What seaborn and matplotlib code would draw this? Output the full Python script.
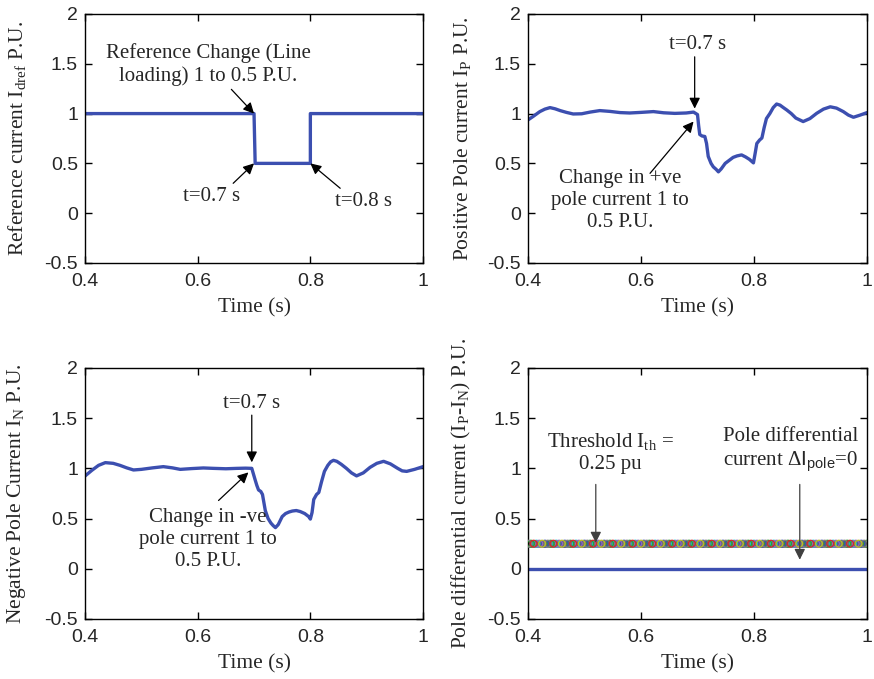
import numpy as np
import pandas as pd
import matplotlib
matplotlib.use('Agg')
import matplotlib.pyplot as plt
import seaborn as sns

# ---------------- data ----------------
# reference current I_dref (step 1 -> 0.5 -> 1)
t_ref = [0.4, 0.7, 0.702, 0.8, 0.8, 1.0]
i_ref = [1.0, 1.0, 0.5, 0.5, 1.0, 1.0]

# positive pole current I_P
t_pos = [0.400, 0.410, 0.421, 0.430, 0.439, 0.448, 0.457, 0.468, 0.480, 0.495,
         0.510, 0.527, 0.545, 0.563, 0.580, 0.600, 0.622, 0.640, 0.660, 0.680,
         0.693, 0.700, 0.702, 0.704, 0.708, 0.713, 0.716, 0.719, 0.724, 0.728,
         0.733, 0.737, 0.742, 0.749, 0.756, 0.763, 0.770, 0.778, 0.785, 0.792,
         0.799, 0.802, 0.805, 0.810, 0.814, 0.818, 0.822, 0.828, 0.834, 0.840,
         0.846, 0.852, 0.858, 0.866, 0.874, 0.887, 0.899, 0.911, 0.923, 0.935,
         0.946, 0.958, 0.967, 0.976, 0.988, 1.000]
i_pos = [0.936, 0.975, 1.020, 1.045, 1.060, 1.048, 1.030, 1.012, 0.996, 0.998,
         1.015, 1.030, 1.022, 1.010, 1.006, 1.012, 1.020, 1.008, 1.002, 1.006,
         1.015, 0.990, 0.880, 0.790, 0.775, 0.770, 0.700, 0.570, 0.500, 0.465,
         0.440, 0.415, 0.445, 0.500, 0.530, 0.560, 0.575, 0.585, 0.565, 0.540,
         0.505, 0.600, 0.700, 0.735, 0.755, 0.860, 0.950, 1.000, 1.060, 1.096,
         1.085, 1.060, 1.036, 1.000, 0.955, 0.920, 0.950, 1.003, 1.045, 1.068,
         1.055, 1.020, 0.985, 0.963, 0.985, 1.010]

# negative pole current I_N
t_neg = [0.400, 0.412, 0.424, 0.436, 0.450, 0.462, 0.474, 0.486, 0.500, 0.520,
         0.539, 0.555, 0.569, 0.590, 0.610, 0.628, 0.650, 0.670, 0.685, 0.696,
         0.702, 0.705, 0.708, 0.712, 0.715, 0.720, 0.725, 0.730, 0.734, 0.738,
         0.743, 0.750, 0.756, 0.762, 0.768, 0.775, 0.782, 0.790, 0.797, 0.800,
         0.803, 0.806, 0.811, 0.815, 0.820, 0.825, 0.831, 0.836, 0.841, 0.847,
         0.855, 0.864, 0.873, 0.882, 0.894, 0.906, 0.918, 0.930, 0.942, 0.955,
         0.963, 0.971, 0.985, 1.000]
i_neg = [0.924, 0.980, 1.030, 1.057, 1.050, 1.030, 1.005, 0.984, 0.990, 1.005,
         1.017, 1.005, 0.990, 0.998, 1.004, 1.000, 0.996, 1.000, 1.002, 1.000,
         0.885, 0.830, 0.785, 0.770, 0.740, 0.580, 0.500, 0.455, 0.430, 0.410,
         0.440, 0.520, 0.550, 0.565, 0.575, 0.580, 0.570, 0.550, 0.520, 0.495,
         0.560, 0.690, 0.740, 0.760, 0.870, 0.970, 1.030, 1.065, 1.080, 1.070,
         1.040, 1.000, 0.955, 0.925, 0.955, 1.010, 1.050, 1.070, 1.045, 1.000,
         0.975, 0.970, 0.990, 1.017]

# pole differential current and threshold
t_diff = [0.4, 1.0]
i_diff = [0.0, 0.0]
threshold = 0.25
t_th = np.round(np.arange(0.4, 1.0001, 0.005), 3)
th_colors = ['#7f7f7f', '#2ca02c', '#d62728', '#17becf', '#9467bd', '#bcbd22', '#3c4fb0']

x_ticks = [0.4, 0.6, 0.8, 1.0]
x_labels = ['0.4', '0.6', '0.8', '1']
y_ticks = [-0.5, 0, 0.5, 1, 1.5, 2]
y_labels = ['-0.5', '0', '0.5', '1', '1.5', '2']

blue = '#3c4fb0'

# ---------------- style ----------------
sns.set_theme(style='white')
plt.rcParams['font.family'] = ['Liberation Serif', 'DejaVu Serif']
plt.rcParams['mathtext.fontset'] = 'custom'
plt.rcParams['mathtext.rm'] = 'Liberation Serif'
plt.rcParams['mathtext.it'] = 'Liberation Serif'
plt.rcParams['mathtext.sf'] = 'Liberation Sans'

fig = plt.figure(figsize=(8.74, 6.79), dpi=100)
fig.patch.set_facecolor('white')

ax_ref = fig.add_axes([0.0973, 0.6127, 0.3867, 0.3667])
ax_pos = fig.add_axes([0.6041, 0.6127, 0.3879, 0.3667])
ax_neg = fig.add_axes([0.0973, 0.0884, 0.3867, 0.3697])
ax_dif = fig.add_axes([0.6041, 0.0884, 0.3879, 0.3697])


def style_axes(ax, ylabel, ylab_x):
    ax.set_xlim(0.4, 1.0)
    ax.set_ylim(-0.5, 2)
    ax.set_xticks(x_ticks)
    ax.set_xticklabels(x_labels, family='Liberation Sans', fontsize=14)
    ax.set_yticks(y_ticks)
    ax.set_yticklabels(y_labels, family='Liberation Sans', fontsize=14)
    ax.tick_params(direction='in', length=5, width=1, color='black',
                   top=True, right=True, bottom=True, left=True, pad=5)
    ax.tick_params(axis='x', pad=7)
    for sp in ax.spines.values():
        sp.set_visible(True)
        sp.set_color('black')
        sp.set_linewidth(1)
    ax.set_xlabel('Time (s)', fontsize=15.5)
    ax.set_ylabel(ylabel, fontsize=15.5)
    ax.xaxis.set_label_coords(0.5, -0.14)
    ax.yaxis.set_label_coords(ylab_x, 0.5)
    ax.set_facecolor('white')


arrow_k = dict(arrowstyle='-|>', color='black', lw=0.9, mutation_scale=16,
               shrinkA=0, shrinkB=0)
txt_k = dict(fontsize=15, ha='center', va='center', linespacing=1.2)

# panel 1: reference current
sns.lineplot(x=t_ref, y=i_ref, ax=ax_ref, color=blue, lw=2.4, sort=False, estimator=None)
style_axes(ax_ref, r'Reference current I$_{\mathrm{dref}}$ P.U.', -0.17)
ax_ref.annotate('Reference Change (Line\nloading) 1 to 0.5 P.U.', xy=(0.7, 1.0),
                xytext=(0.619, 1.49), **txt_k, arrowprops=arrow_k)
ax_ref.annotate('', xy=(0.7, 0.5), xytext=(0.663, 0.30), arrowprops=arrow_k)
ax_ref.text(0.625, 0.17, 't=0.7 s', **txt_k)
ax_ref.annotate('', xy=(0.8, 0.5), xytext=(0.853, 0.25), arrowprops=arrow_k)
ax_ref.text(0.894, 0.115, 't=0.8 s', **txt_k)

# panel 2: positive pole current
sns.lineplot(x=t_pos, y=i_pos, ax=ax_pos, color=blue, lw=2.4, sort=False, estimator=None)
style_axes(ax_pos, r'Positive Pole current I$_{\mathrm{P}}$ P.U.', -0.162)
ax_pos.text(0.70, 1.69, 't=0.7 s', **txt_k)
ax_pos.annotate('', xy=(0.695, 1.05), xytext=(0.695, 1.57), arrowprops=arrow_k)
ax_pos.text(0.563, 0.13, 'Change in +ve\npole current 1 to\n0.5 P.U.', **txt_k)
ax_pos.annotate('', xy=(0.693, 0.92), xytext=(0.616, 0.40), arrowprops=arrow_k)

# panel 3: negative pole current
sns.lineplot(x=t_neg, y=i_neg, ax=ax_neg, color=blue, lw=2.4, sort=False, estimator=None)
style_axes(ax_neg, r'Negative Pole Current I$_{\mathrm{N}}$ P.U.', -0.17)
ax_neg.text(0.696, 1.65, 't=0.7 s', **txt_k)
ax_neg.annotate('', xy=(0.696, 1.06), xytext=(0.696, 1.53), arrowprops=arrow_k)
ax_neg.text(0.618, 0.29, 'Change in -ve\npole current 1 to\n0.5 P.U.', **txt_k)
ax_neg.annotate('', xy=(0.69, 0.96), xytext=(0.637, 0.68), arrowprops=arrow_k)

# panel 4: pole differential current
ax_dif.plot([0.4, 1.0], [threshold, threshold], color='#6a6a6a', lw=5.5, zorder=2)
th_df = pd.DataFrame({'t': t_th, 'v': threshold,
                      'c': [th_colors[i % len(th_colors)] for i in range(len(t_th))]})
for col, grp in th_df.groupby('c'):
    sns.scatterplot(x=grp['t'], y=grp['v'], ax=ax_dif, marker='o', s=24,
                    facecolors='none', edgecolor=col, linewidth=0.9, zorder=3,
                    clip_on=True)
sns.lineplot(x=t_diff, y=i_diff, ax=ax_dif, color=blue, lw=2.4, sort=False, estimator=None)
style_axes(ax_dif, r'Pole differential current (I$_{\mathrm{P}}$-I$_{\mathrm{N}}$) P.U.', -0.162)
grey_arrow = dict(arrow_k, color='#404040')
ax_dif.text(0.545, 1.16, 'Threshold I$_{\\mathrm{th}}$ =\n0.25 pu', **txt_k)
ax_dif.annotate('', xy=(0.52, 0.26), xytext=(0.52, 0.84), arrowprops=grey_arrow)
ax_dif.text(0.864, 1.18, 'Pole differential\ncurrent $\\Delta\\mathsf{I_{pole}}$=0', **txt_k)
ax_dif.annotate('', xy=(0.881, 0.09), xytext=(0.881, 0.84), arrowprops=grey_arrow)

fig.savefig('out.png', dpi=100, facecolor='white')
